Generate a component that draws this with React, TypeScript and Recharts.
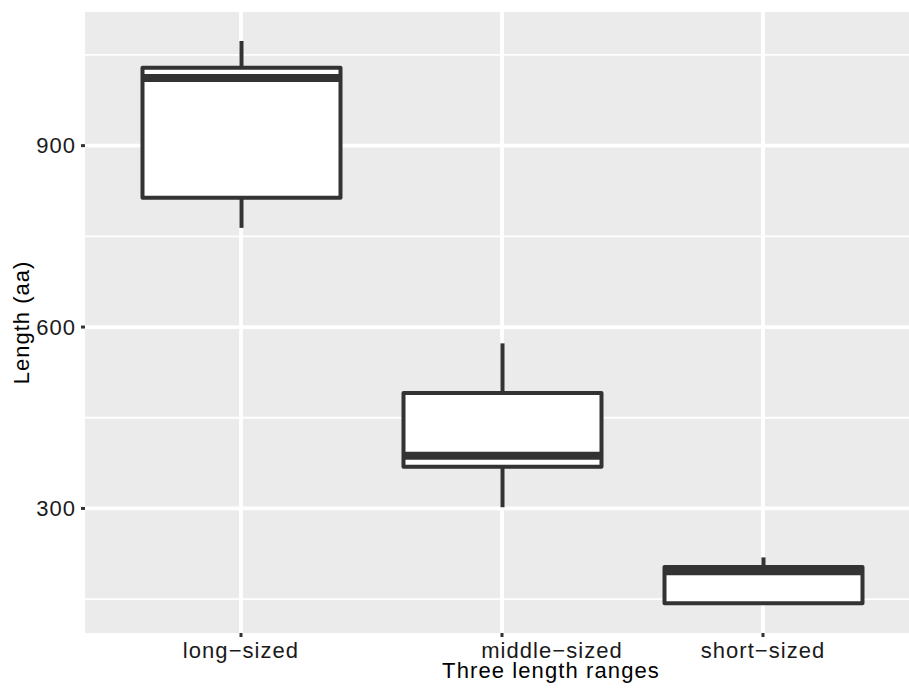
import React from 'react';
import { ComposedChart, Bar, XAxis, YAxis, CartesianGrid } from 'recharts';

const categories = ['long\u2212sized', 'middle\u2212sized', 'short\u2212sized'];
const lowerWhisker = [764, 302, 142];
const firstQuartile = [814, 369, 143];
const medians = [1012, 387, 196];
const thirdQuartile = [1029, 491, 203];
const upperWhisker = [1073, 573, 219];
const yTicks = [300, 600, 900];
const yMinorGrid = [150, 450, 750, 1050];

const data = categories.map((c, i) => ({
  category: c,
  range: [lowerWhisker[i], upperWhisker[i]],
  min: lowerWhisker[i],
  q1: firstQuartile[i],
  median: medians[i],
  q3: thirdQuartile[i],
  max: upperWhisker[i],
}));

const FONT = '"Liberation Sans", Arial, Helvetica, sans-serif';
const INK = '#333333';
const LABEL_SHIFT = [0, 50, 0];
const TEXT_SIZE = 22;
const SPACING = 1.05;

const BoxShape = (props: any) => {
  const { x, y, width, height, payload } = props;
  const { min, max, q1, median, q3 } = payload;
  const top = Math.min(y, y + height);
  const bottom = Math.max(y, y + height);
  const span = max - min || 1;
  const py = (v: number) => bottom - ((v - min) / span) * (bottom - top);
  const cx = x + width / 2;
  return (
    <g>
      <line x1={cx} x2={cx} y1={py(max)} y2={py(q3)} stroke={INK} strokeWidth={4} />
      <line x1={cx} x2={cx} y1={py(q1)} y2={py(min)} stroke={INK} strokeWidth={4} />
      <rect x={x} y={py(q3)} width={width} height={py(q1) - py(q3)} fill="#ffffff" stroke={INK} strokeWidth={4} strokeLinejoin="round" />
      <line x1={x} x2={x + width} y1={py(median)} y2={py(median)} stroke={INK} strokeWidth={8} />
    </g>
  );
};

const XTick = (props: any) => {
  const { x, y, payload, index } = props;
  const shift = LABEL_SHIFT[index] || 0;
  return (
    <text x={x + shift} y={y} dy="0.71em" textAnchor="middle" fontSize={TEXT_SIZE} letterSpacing={SPACING} fill="#1A1A1A" fontFamily={FONT}>
      {payload.value}
    </text>
  );
};

export default function App() {
  return (
    <div style={{ position: 'absolute', left: 0, top: 0, width: 909, height: 689, overflow: 'hidden', background: '#fff' }}>
      <ComposedChart
        width={909}
        height={689}
        data={data}
        margin={{ top: 12, right: 0, bottom: 0, left: 0 }}
        style={{ fontFamily: FONT }}
      >
        <CartesianGrid
          fill="#EBEBEB"
          stroke="#FFFFFF"
          strokeWidth={1.8}
          vertical={false}
          horizontalValues={yMinorGrid}
        />
        <CartesianGrid stroke="#FFFFFF" strokeWidth={3.8} syncWithTicks />
        <XAxis
          dataKey="category"
          type="category"
          height={56}
          padding={{ left: 25.5, right: 15.5 }}
          axisLine={false}
          tickSize={4}
          tickMargin={5}
          tickLine={{ stroke: INK, strokeWidth: 3 }}
          tick={<XTick />}
          interval={0}
          label={{ value: 'Three length ranges', position: 'insideBottom', offset: 11, dx: 54, fontSize: TEXT_SIZE, letterSpacing: 1.1, fill: '#000', fontFamily: FONT }}
        />
        <YAxis
          type="number"
          domain={[94, 1121]}
          allowDataOverflow
          ticks={yTicks}
          interval={0}
          width={85}
          axisLine={false}
          tickSize={4}
          tickMargin={5}
          tickLine={{ stroke: INK, strokeWidth: 3 }}
          tick={{ fontSize: TEXT_SIZE, letterSpacing: SPACING, fill: '#1A1A1A', fontFamily: FONT }}
          label={{ value: 'Length (aa)', angle: -90, position: 'insideLeft', offset: 21, style: { textAnchor: 'middle' }, fontSize: TEXT_SIZE, letterSpacing: 1, fill: '#000', fontFamily: FONT }}
        />
        <Bar dataKey="range" barSize={198} shape={<BoxShape />} isAnimationActive={false} />
      </ComposedChart>
    </div>
  );
}
